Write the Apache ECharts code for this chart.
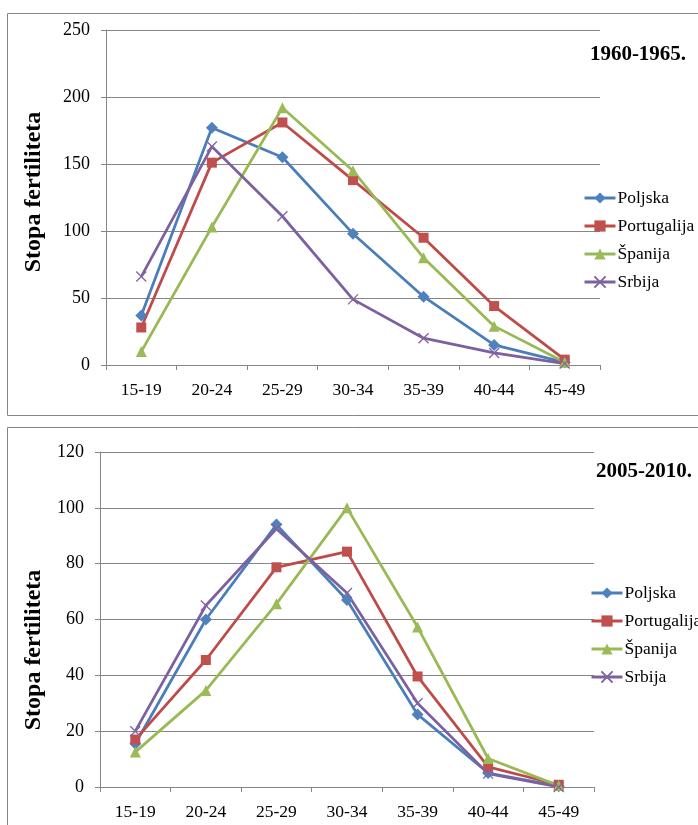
<!DOCTYPE html>
<html>
<head>
<meta charset="utf-8">
<script src="https://cdn.jsdelivr.net/npm/echarts@6/dist/echarts.min.js"></script>
<style>
html,body{margin:0;padding:0;background:#fff;}
#c{width:698px;height:825px;}
</style>
</head>
<body>
<div id="c"></div>
<script>
var categories = ['15-19','20-24','25-29','30-34','35-39','40-44','45-49'];
var countries = ['Poljska','Portugalija','Španija','Srbija'];

// 1960-1965
var poljska1960 = [37, 177, 155, 98, 51, 15, 2];
var portugalija1960 = [28, 151, 181, 138, 95, 44, 4];
var spanija1960 = [10, 103, 192, 145, 80, 29, 2];
var srbija1960 = [66, 163, 111, 49, 20, 9, 1];

// 2005-2010
var poljska2005 = [15.5, 60, 94, 67, 26, 5, 0.3];
var portugalija2005 = [17, 45.5, 78.7, 84.3, 39.6, 7.2, 0.8];
var spanija2005 = [12.5, 34.6, 65.6, 100, 57.3, 10.2, 0.5];
var srbija2005 = [20, 65, 92.5, 69.5, 30, 4.8, 0];

var yTicksTop = {min: 0, max: 250, interval: 50};
var yTicksBottom = {min: 0, max: 120, interval: 20};

var titles = ['1960-1965.', '2005-2010.'];
var yTitle = 'Stopa fertiliteta';

var FONT = '"Liberation Serif", "Times New Roman", serif';
var GRAY = '#868686';

var styles = [
  {line: '#4A7EBB', mark: '#4F81BD', symbol: 'diamond', size: 12},
  {line: '#BE4B48', mark: '#C0504D', symbol: 'rect', size: 10},
  {line: '#98B954', mark: '#9BBB59', symbol: 'triangle', size: 11},
  {line: '#7D60A0', mark: '#8064A2', symbol: 'path://M0,0L10,10M10,0L0,10', size: 10}
];

var dataTop = [poljska1960, portugalija1960, spanija1960, srbija1960];
var dataBottom = [poljska2005, portugalija2005, spanija2005, srbija2005];

function mkSeries(arr, idx) {
  return arr.map(function (d, i) {
    var s = styles[i];
    var isX = i === 3;
    return {
      name: countries[i],
      type: 'line',
      xAxisIndex: idx,
      yAxisIndex: idx,
      data: d,
      symbol: s.symbol,
      symbolSize: s.size,
      showAllSymbol: true,
      lineStyle: {color: s.line, width: 2.75},
      itemStyle: isX ? {color: s.mark, borderColor: s.mark, borderWidth: 1.3} : {color: s.mark, borderWidth: 0},
      emphasis: {disabled: true},
      animation: false
    };
  });
}

function mkXAxis(gi) {
  return {
    type: 'category',
    gridIndex: gi,
    data: categories,
    boundaryGap: true,
    axisLine: {lineStyle: {color: GRAY, width: 1}},
    axisTick: {show: true, length: 5, lineStyle: {color: GRAY}},
    axisLabel: {color: '#000', fontFamily: FONT, fontSize: 17.5, margin: 16},
    splitLine: {show: false}
  };
}

function mkYAxis(gi, t) {
  return {
    type: 'value',
    gridIndex: gi,
    min: t.min, max: t.max, interval: t.interval,
    axisLine: {show: true, lineStyle: {color: GRAY, width: 1}},
    axisTick: {show: true, length: 5, lineStyle: {color: GRAY}},
    axisLabel: {color: '#000', fontFamily: FONT, fontSize: 18, margin: 16},
    splitLine: {show: true, lineStyle: {color: GRAY, width: 1}}
  };
}

function mkLegend(left, top) {
  return {
    orient: 'vertical',
    left: left, top: top,
    padding: 0,
    itemWidth: 31, itemHeight: 14,
    itemGap: 10,
    data: countries,
    selectedMode: false,
    lineStyle: {width: 3},
    textStyle: {color: '#000', fontFamily: FONT, fontSize: 17.5, padding: [0, 0, 0, -3]}
  };
}

var chart = echarts.init(document.getElementById('c'), null, {renderer: 'canvas'});
chart.setOption({
  animation: false,
  backgroundColor: '#fff',
  grid: [
    {left: 106, top: 30, width: 494, height: 335},
    {left: 100, top: 452, width: 494, height: 335}
  ],
  xAxis: [mkXAxis(0), mkXAxis(1)],
  yAxis: [mkYAxis(0, yTicksTop), mkYAxis(1, yTicksBottom)],
  legend: [mkLegend(583, 189), mkLegend(590, 584)],
  series: mkSeries(dataTop, 0).concat(mkSeries(dataBottom, 1)),
  graphic: [
    {type: 'rect', shape: {x: 7.5, y: 13.5, width: 720, height: 402}, style: {fill: 'none', stroke: GRAY, lineWidth: 1}, silent: true, z: -1},
    {type: 'rect', shape: {x: 7.5, y: 427.5, width: 720, height: 500}, style: {fill: 'none', stroke: GRAY, lineWidth: 1}, silent: true, z: -1},
    {type: 'text', x: 638, y: 55, style: {text: titles[0], font: 'bold 21px ' + FONT, fill: '#000', align: 'center', verticalAlign: 'middle'}},
    {type: 'text', x: 644, y: 472, style: {text: titles[1], font: 'bold 21px ' + FONT, fill: '#000', align: 'center', verticalAlign: 'middle'}},
    {type: 'text', x: 34, y: 192, rotation: Math.PI / 2, style: {text: yTitle, font: 'bold 24px ' + FONT, fill: '#000', align: 'center', verticalAlign: 'middle'}},
    {type: 'text', x: 34, y: 650, rotation: Math.PI / 2, style: {text: yTitle, font: 'bold 24px ' + FONT, fill: '#000', align: 'center', verticalAlign: 'middle'}}
  ]
});
</script>
</body>
</html>
